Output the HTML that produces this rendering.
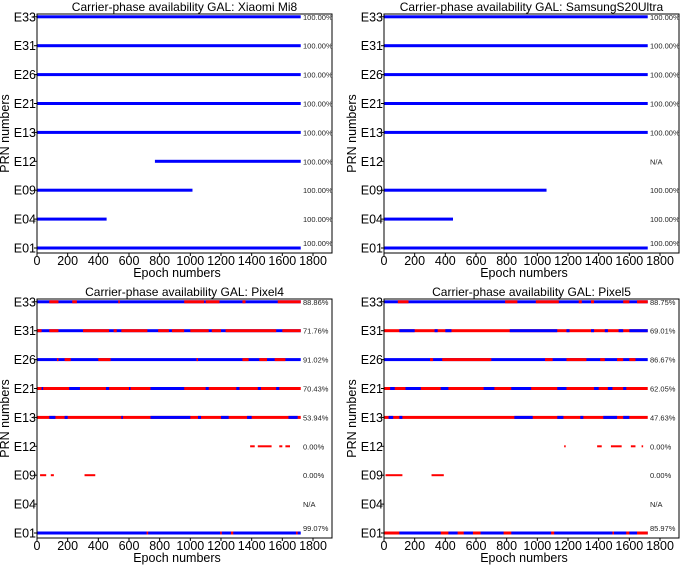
<!DOCTYPE html>
<html><head><meta charset="utf-8"><style>
html,body{margin:0;padding:0;background:#fff;}
svg{display:block;font-family:"Liberation Sans",sans-serif;}
</style></head><body>
<svg id="c" width="685" height="568" viewBox="0 0 685 568"></svg>
<script>
const prnLabels=["E01","E04","E09","E12","E13","E21","E26","E31","E33"];
const xTicks=[0,200,400,600,800,1000,1200,1400,1600,1800];
const panelTitles=["Carrier-phase availability GAL: Xiaomi Mi8","Carrier-phase availability GAL: SamsungS20Ultra","Carrier-phase availability GAL: Pixel4","Carrier-phase availability GAL: Pixel5"];
const pctMi8=["100.00%","100.00%","100.00%","100.00%","100.00%","100.00%","100.00%","100.00%","100.00%"];
const pctS20=["100.00%","100.00%","100.00%","N/A","100.00%","100.00%","100.00%","100.00%","100.00%"];
const pctP4=["99.07%","N/A","0.00%","0.00%","53.94%","70.43%","91.02%","71.76%","88.86%"];
const pctP5=["85.97%","N/A","0.00%","0.00%","47.63%","62.05%","86.67%","69.01%","88.75%"];
const segMi8=[[0,0,1720,"b"],[1,0,454,"b"],[2,0,1014,"b"],[3,769,1720,"b"],[4,0,1720,"b"],[5,0,1720,"b"],[6,0,1720,"b"],[7,0,1720,"b"],[8,0,1720,"b"]];
const segS20=[[0,0,1720,"b"],[1,0,450,"b"],[2,0,1060,"b"],[4,0,1720,"b"],[5,0,1720,"b"],[6,0,1720,"b"],[7,0,1720,"b"],[8,0,1720,"b"]];
const segP4=[
[0,0,1720,"b"],[0,715,725,"r"],[0,1195,1205,"r"],[0,1265,1280,"r"],[0,1690,1700,"r"],
[2,20,60,"d"],[2,90,110,"d"],[2,310,380,"d"],
[3,1390,1420,"d"],[3,1440,1530,"d"],[3,1580,1600,"d"],[3,1620,1650,"d"],
[4,0,1720,"r"],[4,80,120,"b"],[4,180,200,"b"],[4,550,560,"b"],[4,740,1000,"b"],[4,1050,1070,"b"],[4,1200,1250,"b"],[4,1370,1400,"b"],[4,1640,1700,"b"],
[5,0,1720,"r"],[5,30,40,"b"],[5,210,280,"b"],[5,450,470,"b"],[5,600,610,"b"],[5,740,960,"b"],[5,1100,1120,"b"],[5,1300,1320,"b"],[5,1440,1460,"b"],[5,1560,1580,"b"],
[6,0,1720,"b"],[6,130,140,"r"],[6,180,220,"r"],[6,400,480,"r"],[6,1040,1050,"r"],[6,1340,1380,"r"],[6,1450,1500,"r"],[6,1550,1620,"r"],
[7,0,1720,"b"],[7,0,30,"r"],[7,80,140,"r"],[7,300,470,"r"],[7,500,520,"r"],[7,550,720,"r"],[7,790,860,"r"],[7,880,960,"r"],[7,1000,1120,"r"],[7,1140,1200,"r"],[7,1230,1560,"r"],[7,1600,1720,"r"],
[8,0,1720,"b"],[8,80,140,"r"],[8,230,260,"r"],[8,530,540,"r"],[8,960,1090,"r"],[8,1100,1190,"r"],[8,1340,1360,"r"],[8,1570,1720,"r"]
];
const segP5=[
[0,0,1720,"b"],[0,0,100,"r"],[0,370,420,"r"],[0,480,520,"r"],[0,580,630,"r"],[0,780,830,"r"],[0,1090,1110,"r"],[0,1490,1500,"r"],[0,1580,1600,"r"],[0,1650,1720,"r"],
[2,10,120,"d"],[2,310,390,"d"],
[3,1175,1185,"d"],[3,1390,1420,"d"],[3,1480,1550,"d"],[3,1610,1640,"d"],[3,1680,1690,"d"],
[4,0,1720,"r"],[4,30,60,"b"],[4,100,120,"b"],[4,850,970,"b"],[4,1130,1170,"b"],[4,1280,1300,"b"],[4,1430,1520,"b"],[4,1560,1600,"b"],
[5,0,1720,"r"],[5,40,70,"b"],[5,140,240,"b"],[5,370,420,"b"],[5,650,720,"b"],[5,830,960,"b"],[5,1130,1190,"b"],[5,1370,1400,"b"],[5,1460,1490,"b"],[5,1560,1580,"b"],
[6,0,1720,"b"],[6,300,320,"r"],[6,380,700,"r"],[6,1050,1100,"r"],[6,1190,1320,"r"],[6,1410,1440,"r"],[6,1520,1560,"r"],[6,1600,1640,"r"],
[7,0,1720,"r"],[7,100,200,"b"],[7,330,350,"b"],[7,400,440,"b"],[7,820,1130,"b"],[7,1190,1210,"b"],[7,1350,1370,"b"],[7,1440,1460,"b"],[7,1530,1560,"b"],[7,1600,1720,"b"],
[8,0,1720,"b"],[8,90,160,"r"],[8,790,870,"r"],[8,990,1140,"r"],[8,1270,1290,"r"],[8,1350,1370,"r"],[8,1560,1600,"r"],[8,1650,1720,"r"]
];
const panels=[[0,0,segMi8,pctMi8,"xiaomi-mi8"],[347,0,segS20,pctS20,"samsung-s20ultra"],[0,285,segP4,pctP4,"pixel4"],[347,285,segP5,pctP5,"pixel5"]];
const NS="http://www.w3.org/2000/svg";
const svg=document.getElementById("c");
function mk(t,a,p){const e=document.createElementNS(NS,t);for(const k in a)e.setAttribute(k,a[k]);(p||svg).appendChild(e);return e;}
panels.forEach((P,pi)=>{
  const ox=P[0],oy=P[1],segs=P[2],pct=P[3];
  const L=ox+37,R=ox+332,T=oy+14,B=oy+253;
  const xs=v=>L+v*(276/1800);
  const ys=i=>oy+248-i*28.9;
  const g=mk("g",{});
  
  
  const t=mk("text",{x:(L+R)/2,y:oy+11,"font-size":"12","text-anchor":"middle",fill:"#000"},g);
  t.textContent=panelTitles[pi];
  
  
  segs.forEach(s=>{
    const col=s[3]==="b"?"#0000ff":"#ff0000";
    const h=s[3]==="d"?2:3;
    const r=mk("rect",{x:xs(s[1]),y:ys(s[0])-h/2,width:Math.max(1.5,xs(s[2])-xs(s[1])),height:h,fill:col},g);
    
    
  });
  const box=mk("rect",{x:L,y:T,width:R-L,height:B-T,fill:"none",stroke:"#000","stroke-width":"1"},g);
  
  
  prnLabels.forEach((lab,i)=>{
    mk("line",{x1:L-3,x2:L,y1:ys(i),y2:ys(i),stroke:"#000"},g);
    const tl=mk("text",{x:L-1,y:ys(i)+4.5,"font-size":"12.5","text-anchor":"end",fill:"#000"},g);
    tl.textContent=lab;
    
    
    const pl=mk("text",{x:R-29,y:ys(i)+(i===0?-2:3),"font-size":"7.5",fill:"#222"},g);
    pl.textContent=pct[i];
    
    
  });
  xTicks.forEach(v=>{
    mk("line",{x1:xs(v),x2:xs(v),y1:B,y2:B+3,stroke:"#000"},g);
    const xl=mk("text",{x:xs(v),y:B+12,"font-size":"12.5","text-anchor":"middle",fill:"#000"},g);
    xl.textContent=v;
    
    
  });
  const xt=mk("text",{x:L+140,y:B+24,"font-size":"12.5","text-anchor":"middle",fill:"#000"},g);
  xt.textContent="Epoch numbers";
  
  
  const yt=mk("text",{x:0,y:0,"font-size":"12.5","text-anchor":"middle",fill:"#000",transform:`translate(${ox+9},${(T+B)/2}) rotate(-90)`},g);
  yt.textContent="PRN numbers";
  
  
});
</script>
</body></html>
